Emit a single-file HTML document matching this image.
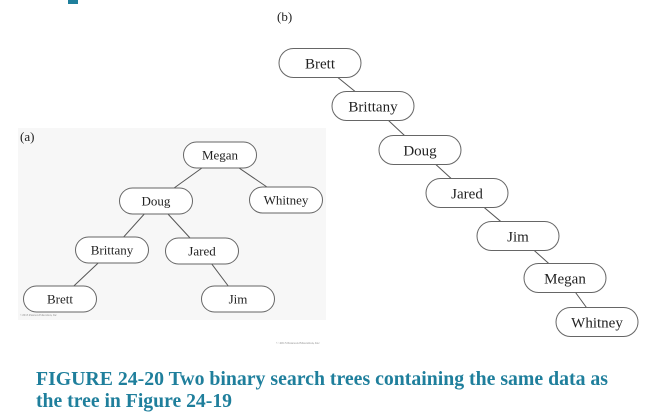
<!DOCTYPE html>
<html><head><meta charset="utf-8"><style>
html,body{margin:0;padding:0;background:#fff;}
svg{display:block;}
</style></head><body>
<svg width="655" height="414" viewBox="0 0 655 414" font-family="'Liberation Serif', serif">
<rect x="0" y="0" width="655" height="414" fill="#fff"/>
<rect x="68" y="0" width="10" height="4" fill="#1f7f9c"/>
<rect x="18" y="128" width="308" height="192" fill="#f7f7f7"/>
<text x="20" y="141" font-size="13" fill="#222">(a)</text>
<text x="277" y="21" font-size="13" fill="#222">(b)</text>
<text x="20" y="316" font-size="3" fill="#888">©2013 Pearson Education, Inc</text>
<text x="276" y="344" font-size="3.5" fill="#888">© 2013 Pearson Education, Inc</text>
<g id="edges"></g>
<g id="nodes"></g>
<text x="36" y="385" font-size="20" font-weight="bold" fill="#1f7f9c" textLength="572" lengthAdjust="spacingAndGlyphs">FIGURE 24-20 Two binary search trees containing the same data as</text>
<text x="36" y="407" font-size="20" font-weight="bold" fill="#1f7f9c" textLength="196" lengthAdjust="spacingAndGlyphs">the tree in Figure 24-19</text>
</svg>
<script>
const treeANames=["Megan","Doug","Whitney","Brittany","Jared","Brett","Jim"];
const treeAX=[220,156,286,112,202,60,238];
const treeAY=[155,201,200,250,251,299,299];
const treeAParents=[-1,0,0,1,1,3,4];
const treeBNames=["Brett","Brittany","Doug","Jared","Jim","Megan","Whitney"];
const treeBX=[320,373,420,467,518,565,597];
const treeBY=[63,106,150,193,236,278,322];
const treeBParents=[-1,0,1,2,3,4,5];
const NS="http://www.w3.org/2000/svg";
const edges=document.getElementById('edges'),nodes=document.getElementById('nodes');
function draw(names,xs,ys,parents,w,h,fs,prefix){
  for(let i=0;i<names.length;i++){
    if(parents[i]>=0){
      const p=parents[i];
      const l=document.createElementNS(NS,'line');
      l.setAttribute('x1',xs[p]);l.setAttribute('y1',ys[p]);
      l.setAttribute('x2',xs[i]);l.setAttribute('y2',ys[i]);
      l.setAttribute('stroke','#555');l.setAttribute('stroke-width','1');
      
      
      edges.appendChild(l);
    }
  }
  for(let i=0;i<names.length;i++){
    const g=document.createElementNS(NS,'g');
    
    
    const r=document.createElementNS(NS,'rect');
    r.setAttribute('x',xs[i]-w/2);r.setAttribute('y',ys[i]-h/2);
    r.setAttribute('width',w);r.setAttribute('height',h);
    r.setAttribute('rx',h/2);r.setAttribute('fill','#fff');
    r.setAttribute('stroke','#666');r.setAttribute('stroke-width','1');
    g.appendChild(r);
    const t=document.createElementNS(NS,'text');
    t.setAttribute('x',xs[i]);t.setAttribute('y',ys[i]+fs*0.35);
    t.setAttribute('text-anchor','middle');t.setAttribute('font-size',fs);
    t.setAttribute('fill','#222');t.textContent=names[i];
    g.appendChild(t);
    nodes.appendChild(g);
  }
}
draw(treeANames,treeAX,treeAY,treeAParents,73,26,13,'tree-a');
draw(treeBNames,treeBX,treeBY,treeBParents,82,29,15,'tree-b');
</script>
</body></html>
